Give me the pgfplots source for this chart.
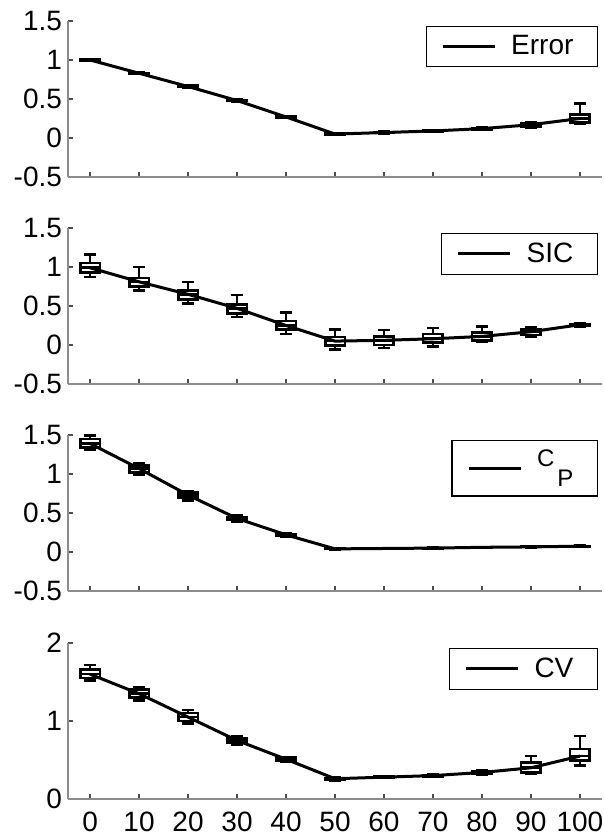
\documentclass[border=0pt]{standalone}
\usepackage{graphicx}
\usepackage{pgfplots}
\pgfplotsset{compat=1.18}
\usepgfplotslibrary{statistics}
\usepackage{fontspec}
\setmainfont{Liberation Sans}

% one box: position, lower whisker, lower quartile, median, upper quartile, upper whisker
\newcommand{\boxp}[6]{\addplot[forget plot, black, solid, line width=1.3pt, fill=white,
  boxplot prepared={draw direction=y, draw position=#1, lower whisker=#2, lower quartile=#3, median=#4,
  upper quartile=#5, upper whisker=#6, box extend=4, whisker extend=2.6}] coordinates {};}

\pgfplotsset{
  panel/.style={
    width=267pt, height=78pt, scale only axis,
    xmin=-4.5, xmax=104.5,
    axis x line*=bottom, axis y line*=left,
    axis line style={black!45, line width=0.6pt, -},
    xtick={0,10,...,100},
    tick align=inside, major tick length=2.5pt,
    tick style={black!70, line width=0.6pt},
    tick label style={font=\fontsize{14}{16}\selectfont},
    xticklabel style={yshift=-3pt},
    yticklabel style={xshift=0.5pt},
    /pgf/number format/assume math mode=true,
    legend style={at={(rel axis cs:1,1)}, anchor=north east, xshift=-2pt, yshift=-2.5pt,
      draw=black, line width=0.6pt, font=\fontsize{14}{16}\selectfont,
      inner xsep=7.5pt, inner ysep=0pt, nodes={inner sep=4.5pt}},
    legend image code/.code={\draw[line width=1.5pt, black] (0,0) -- (26pt,0); \path (29pt,0);},
    clip=false,
  },
  medline/.style={black, line width=1.5pt, mark=none},
}

\begin{document}
\begin{tikzpicture}
\useasboundingbox (0,0) rectangle (302pt,418pt);

% Error
\begin{axis}[panel, at={(34pt,329.5pt)}, anchor=south west,
  ymin=-0.5, ymax=1.5, ytick={-0.5,0,0.5,1,1.5}, xticklabels={}]
\boxp{0}{0.99}{0.995}{1.0}{1.005}{1.01}
\boxp{10}{0.82}{0.825}{0.83}{0.835}{0.84}
\boxp{20}{0.65}{0.655}{0.66}{0.67}{0.675}
\boxp{30}{0.47}{0.475}{0.48}{0.485}{0.49}
\boxp{40}{0.26}{0.265}{0.27}{0.275}{0.28}
\boxp{50}{0.04}{0.045}{0.05}{0.055}{0.06}
\boxp{60}{0.06}{0.065}{0.07}{0.075}{0.08}
\boxp{70}{0.075}{0.08}{0.09}{0.095}{0.1}
\boxp{80}{0.1}{0.11}{0.12}{0.13}{0.14}
\boxp{90}{0.13}{0.14}{0.17}{0.19}{0.2}
\boxp{100}{0.18}{0.2}{0.25}{0.3}{0.44}
\addplot[medline] coordinates {(0,1.0) (10,0.83) (20,0.66) (30,0.48) (40,0.27) (50,0.05) (60,0.07) (70,0.09) (80,0.12) (90,0.17) (100,0.25)};
\addlegendentry{Error}
\end{axis}

% SIC
\begin{axis}[panel, at={(34pt,226pt)}, anchor=south west,
  ymin=-0.5, ymax=1.5, ytick={-0.5,0,0.5,1,1.5}, xticklabels={}]
\boxp{0}{0.87}{0.93}{0.99}{1.05}{1.16}
\boxp{10}{0.7}{0.75}{0.81}{0.86}{1.0}
\boxp{20}{0.53}{0.58}{0.65}{0.7}{0.81}
\boxp{30}{0.36}{0.4}{0.47}{0.52}{0.64}
\boxp{40}{0.14}{0.2}{0.25}{0.31}{0.42}
\boxp{50}{-0.06}{-0.01}{0.05}{0.1}{0.2}
\boxp{60}{-0.04}{0.0}{0.06}{0.11}{0.19}
\boxp{70}{-0.02}{0.03}{0.08}{0.14}{0.22}
\boxp{80}{0.04}{0.06}{0.11}{0.16}{0.24}
\boxp{90}{0.11}{0.13}{0.17}{0.2}{0.23}
\boxp{100}{0.24}{0.25}{0.26}{0.27}{0.28}
\addplot[medline] coordinates {(0,0.99) (10,0.81) (20,0.65) (30,0.47) (40,0.25) (50,0.05) (60,0.06) (70,0.08) (80,0.11) (90,0.17) (100,0.26)};
\addlegendentry{SIC}
\end{axis}

% C_P
\begin{axis}[panel, at={(34pt,122.5pt)}, anchor=south west,
  ymin=-0.5, ymax=1.5, ytick={-0.5,0,0.5,1,1.5}, xticklabels={},
  legend style={nodes={text depth=6.5pt}}]
\boxp{0}{1.31}{1.34}{1.39}{1.45}{1.49}
\boxp{10}{0.99}{1.02}{1.07}{1.11}{1.14}
\boxp{20}{0.66}{0.7}{0.73}{0.76}{0.78}
\boxp{30}{0.39}{0.41}{0.43}{0.45}{0.47}
\boxp{40}{0.2}{0.21}{0.22}{0.23}{0.24}
\boxp{50}{0.035}{0.038}{0.04}{0.042}{0.045}
\boxp{60}{0.04}{0.043}{0.045}{0.047}{0.05}
\boxp{70}{0.045}{0.048}{0.05}{0.052}{0.055}
\boxp{80}{0.055}{0.058}{0.06}{0.062}{0.065}
\boxp{90}{0.06}{0.063}{0.065}{0.067}{0.07}
\boxp{100}{0.07}{0.073}{0.075}{0.077}{0.08}
\addplot[medline] coordinates {(0,1.39) (10,1.07) (20,0.73) (30,0.43) (40,0.22) (50,0.04) (60,0.045) (70,0.05) (80,0.06) (90,0.065) (100,0.075)};
\addlegendentry{{\fontsize{12}{14}\selectfont\raisebox{0.6ex}{C}\hspace{1.5pt}\raisebox{-1.0ex}{P}}}
\end{axis}

% CV
\begin{axis}[panel, at={(34pt,18.5pt)}, anchor=south west,
  ymin=0, ymax=2, ytick={0,1,2}]
\boxp{0}{1.52}{1.55}{1.6}{1.66}{1.72}
\boxp{10}{1.26}{1.3}{1.35}{1.4}{1.43}
\boxp{20}{0.97}{1.0}{1.05}{1.1}{1.14}
\boxp{30}{0.7}{0.72}{0.75}{0.78}{0.8}
\boxp{40}{0.48}{0.49}{0.51}{0.53}{0.54}
\boxp{50}{0.24}{0.25}{0.26}{0.27}{0.28}
\boxp{60}{0.27}{0.275}{0.28}{0.285}{0.29}
\boxp{70}{0.28}{0.29}{0.3}{0.31}{0.32}
\boxp{80}{0.31}{0.32}{0.34}{0.36}{0.37}
\boxp{90}{0.32}{0.34}{0.4}{0.47}{0.55}
\boxp{100}{0.43}{0.49}{0.55}{0.64}{0.81}
\addplot[medline] coordinates {(0,1.6) (10,1.35) (20,1.05) (30,0.75) (40,0.51) (50,0.26) (60,0.28) (70,0.3) (80,0.34) (90,0.4) (100,0.55)};
\addlegendentry{CV}
\end{axis}
\end{tikzpicture}
\end{document}
